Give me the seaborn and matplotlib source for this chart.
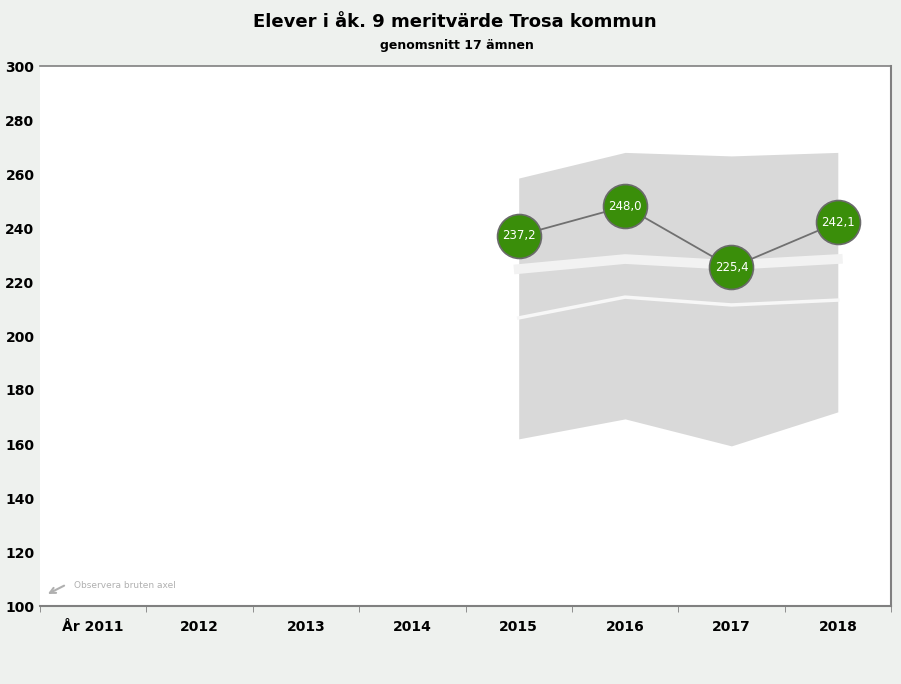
import matplotlib
matplotlib.use("Agg")
import matplotlib.pyplot as plt
import seaborn as sns
import pandas as pd

categories = ["År 2011", "2012", "2013", "2014", "2015", "2016", "2017", "2018"]
years = ["2015", "2016", "2017", "2018"]
merit = [237.2, 248.0, 225.4, 242.1]
band_max = [258.5, 268.0, 266.7, 268.0]
band_min = [161.9, 169.3, 159.3, 171.9]
line_thick = [224.8, 228.5, 226.3, 228.5]
line_thin = [206.7, 214.4, 211.5, 213.3]
yticks = [100, 120, 140, 160, 180, 200, 220, 240, 260, 280, 300]

bg = "#eef1ee"
fig = plt.figure(figsize=(9.01, 6.84), dpi=100, facecolor=bg)
ax = fig.add_axes([40/901, 1-606/684, 851/901, 540/684])
ax.set_facecolor("white")

idx = [categories.index(y) if y in categories else None for y in years]
x = [4, 5, 6, 7]
df = pd.DataFrame({"x": x, "merit": merit, "thick": line_thick, "thin": line_thin})

ax.fill_between(x, band_min, band_max, color="#d9d9d9", lw=0, zorder=1)
sns.lineplot(data=df, x="x", y="thick", ax=ax, color="#f2f2f2", lw=7, zorder=2)
sns.lineplot(data=df, x="x", y="thin", ax=ax, color="#f7f7f7", lw=2.5, zorder=2)
# smoothed merit line
import numpy as np
from matplotlib.path import Path
sns.lineplot(data=df, x="x", y="merit", ax=ax, color="#707070", lw=1.3, zorder=3)
sns.scatterplot(data=df, x="x", y="merit", ax=ax, s=1000, color="#3a8e0a",
                edgecolor="#6a6a6a", linewidth=1.2, zorder=4, legend=False)
for xi, v in zip(x, merit):
    ax.text(xi, v, f"{v:.1f}".replace(".", ","), ha="center", va="center",
            color="white", fontsize=8.5, zorder=5, fontfamily="Liberation Sans Narrow")

ax.set_xlim(-0.5, 7.5)
ax.set_ylim(100, 300)
ax.set_yticks(yticks)
ax.set_yticklabels([str(t) for t in yticks], fontsize=10, fontweight="bold", fontfamily="Liberation Sans Narrow")
ax.set_xticks(range(len(categories)))
ax.set_xticklabels(categories, fontsize=10, fontweight="bold", fontfamily="Liberation Sans Narrow")
ax.set_xticks([i + 0.5 for i in range(-1, 8)], minor=True)
ax.tick_params(axis="x", which="major", length=0, pad=10)
ax.tick_params(axis="x", which="minor", length=4, color="#7f7f7f")
ax.tick_params(axis="y", length=0, pad=4)
ax.set_xlabel(""); ax.set_ylabel("")
for s in ax.spines.values():
    s.set_color("#808080"); s.set_linewidth(1.5)
ax.spines["left"].set_visible(False)
ax.spines["top"].set_linewidth(1.2)

ax.annotate("", xy=(-0.45, 104), xytext=(-0.25, 108),
            arrowprops=dict(arrowstyle="->", color="#b0b0b0", lw=1.5))
ax.text(-0.18, 107.5, "Observera bruten axel", fontsize=6.5, color="#b0b0b0",
        fontfamily="Liberation Sans Narrow", va="center")

fig.text(455/901, 1-22/684, "Elever i åk. 9 meritvärde Trosa kommun", ha="center", va="center",
         fontsize=13, fontweight="bold", fontfamily="Liberation Sans Narrow")
fig.text(457/901, 1-46/684, "genomsnitt 17 ämnen", ha="center", va="center",
         fontsize=9, fontweight="bold", fontfamily="Liberation Sans Narrow")

fig.savefig("out.png", dpi=100, facecolor=bg)
